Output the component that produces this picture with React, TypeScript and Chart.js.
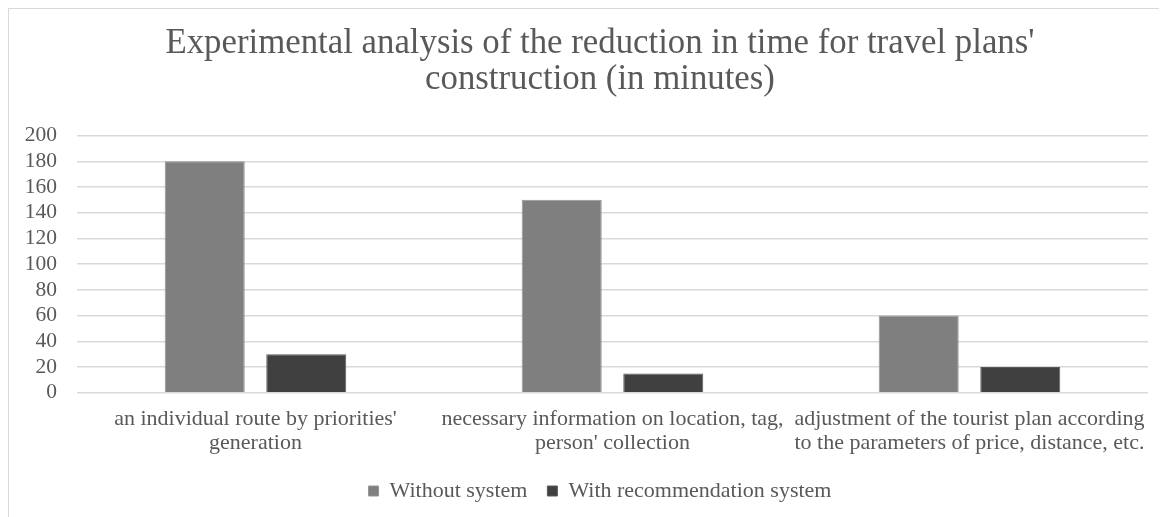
import React, { useEffect, useRef } from "react";
import { Chart, registerables } from "chart.js";

Chart.register(...registerables);

// Chart content
const titleLines = [
  "Experimental analysis of the reduction in time for travel plans'",
  "construction (in minutes)",
];

const categories: string[][] = [
  ["an individual route by priorities'", "generation"],
  ["necessary information on location, tag,", "person' collection"],
  ["adjustment of the tourist plan according", "to the parameters of price, distance, etc."],
];

const seriesNames = ["Without system", "With recommendation system"];
const withoutSystem = [180, 150, 60];
const withSystem = [30, 15, 20];

const yMin = 0;
const yMax = 200;
const yStep = 20;

const FONT = "'Times New Roman', 'Liberation Serif', serif";
const TEXT = "#595959";

export default function App() {
  const canvasRef = useRef<HTMLCanvasElement | null>(null);

  useEffect(() => {
    const canvas = canvasRef.current;
    if (!canvas) return;
    const chart = new Chart(canvas, {
      type: "bar",
      data: {
        labels: categories,
        datasets: [
          {
            label: seriesNames[0],
            data: withoutSystem,
            backgroundColor: "#7f7f7f",
            borderColor: "#959595",
            borderWidth: 1,
            yAxisID: "y",
          },
          {
            label: seriesNames[1],
            data: withSystem,
            backgroundColor: "#404040",
            borderColor: "#5a5a5a",
            borderWidth: 1,
            yAxisID: "y",
          },
        ],
      },
      options: {
        animation: false,
        responsive: false,
        maintainAspectRatio: false,
        devicePixelRatio: 1,
        datasets: {
          bar: { categoryPercentage: 0.569, barPercentage: 0.788 },
        },
        layout: { padding: { left: 0, right: 0, top: 0, bottom: 17 } },
        plugins: {
          tooltip: { enabled: false },
          title: {
            display: true,
            text: titleLines,
            color: TEXT,
            font: { family: FONT, size: 34.8, weight: "normal", lineHeight: 1.045 },
            padding: { top: 16.2, bottom: 37.6 },
          },
          legend: {
            display: true,
            position: "bottom",
            labels: {
              color: TEXT,
              font: { family: FONT, size: 22, lineHeight: 1.068 },
              boxWidth: 10,
              boxHeight: 10,
              padding: 20,
            },
          },
        },
        scales: {
          x: {
            grid: { display: false, drawTicks: false },
            border: { display: false },
            ticks: {
              color: TEXT,
              font: { family: FONT, size: 22, lineHeight: 1.068 },
              padding: 14.75,
              autoSkip: false,
              maxRotation: 0,
              minRotation: 0,
            },
            afterFit: (s: any) => {
              s.height = 67.25;
            },
          },
          y: {
            min: yMin,
            max: yMax,
            grid: { color: "#d9d9d9", lineWidth: 1.5, drawTicks: false },
            border: { display: false },
            ticks: {
              stepSize: yStep,
              autoSkip: false,
              color: TEXT,
              font: { family: FONT, size: 21.5 },
              padding: 20,
            },
            afterFit: (s: any) => {
              s.width = 68;
            },
          },
          yRight: {
            type: "linear",
            position: "right",
            display: true,
            grid: { display: false, drawTicks: false },
            border: { display: false },
            ticks: { display: false },
            afterFit: (s: any) => {
              s.width = 43;
            },
          },
        },
      },
    });
    return () => chart.destroy();
  }, []);

  return (
    <div style={{ width: 1160, height: 510, overflow: "hidden", margin: "-1px 0 0 -1px" }}>
      <div
        style={{
          width: 1182,
          height: 520,
          border: "2px solid #d9d9d9",
          background: "#ffffff",
        }}
      >
        <canvas ref={canvasRef} width={1182} height={520} style={{ display: "block" }} />
      </div>
    </div>
  );
}
